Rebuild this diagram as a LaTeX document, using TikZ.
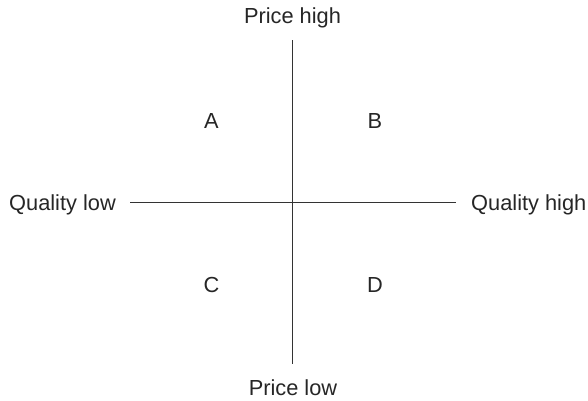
\documentclass[tikz,border=0pt]{standalone}
\usepackage{fontspec}
\setmainfont{Liberation Sans}
\begin{document}
\begin{tikzpicture}[x=1pt,y=-1pt,
  lbl/.style={inner sep=0pt,font=\fontsize{21.8}{26}\selectfont,text=black!85},
  axis/.style={draw=black!80,line width=1pt}]
\useasboundingbox (0,0) rectangle (588,400);
\coordinate (top) at (292.5,40);
\coordinate (bot) at (292.5,364);
\coordinate (lft) at (130,202.5);
\coordinate (rgt) at (456,202.5);
\draw[axis] (top) -- (bot);
\draw[axis] (lft) -- (rgt);
\node[lbl,anchor=base] (ph) at (292.5,23) {Price high};
\node[lbl,anchor=base] (pl) at (293,395) {Price low};
\node[lbl,anchor=base west] (ql) at (9,210) {Quality low};
\node[lbl,anchor=base west] (qh) at (471,210) {Quality high};
\node[lbl,anchor=base] (a) at (211.5,128) {A};
\node[lbl,anchor=base] (b) at (375,128) {B};
\node[lbl,anchor=base] (c) at (211.5,292) {C};
\node[lbl,anchor=base] (d) at (375,292) {D};
\end{tikzpicture}
\end{document}
